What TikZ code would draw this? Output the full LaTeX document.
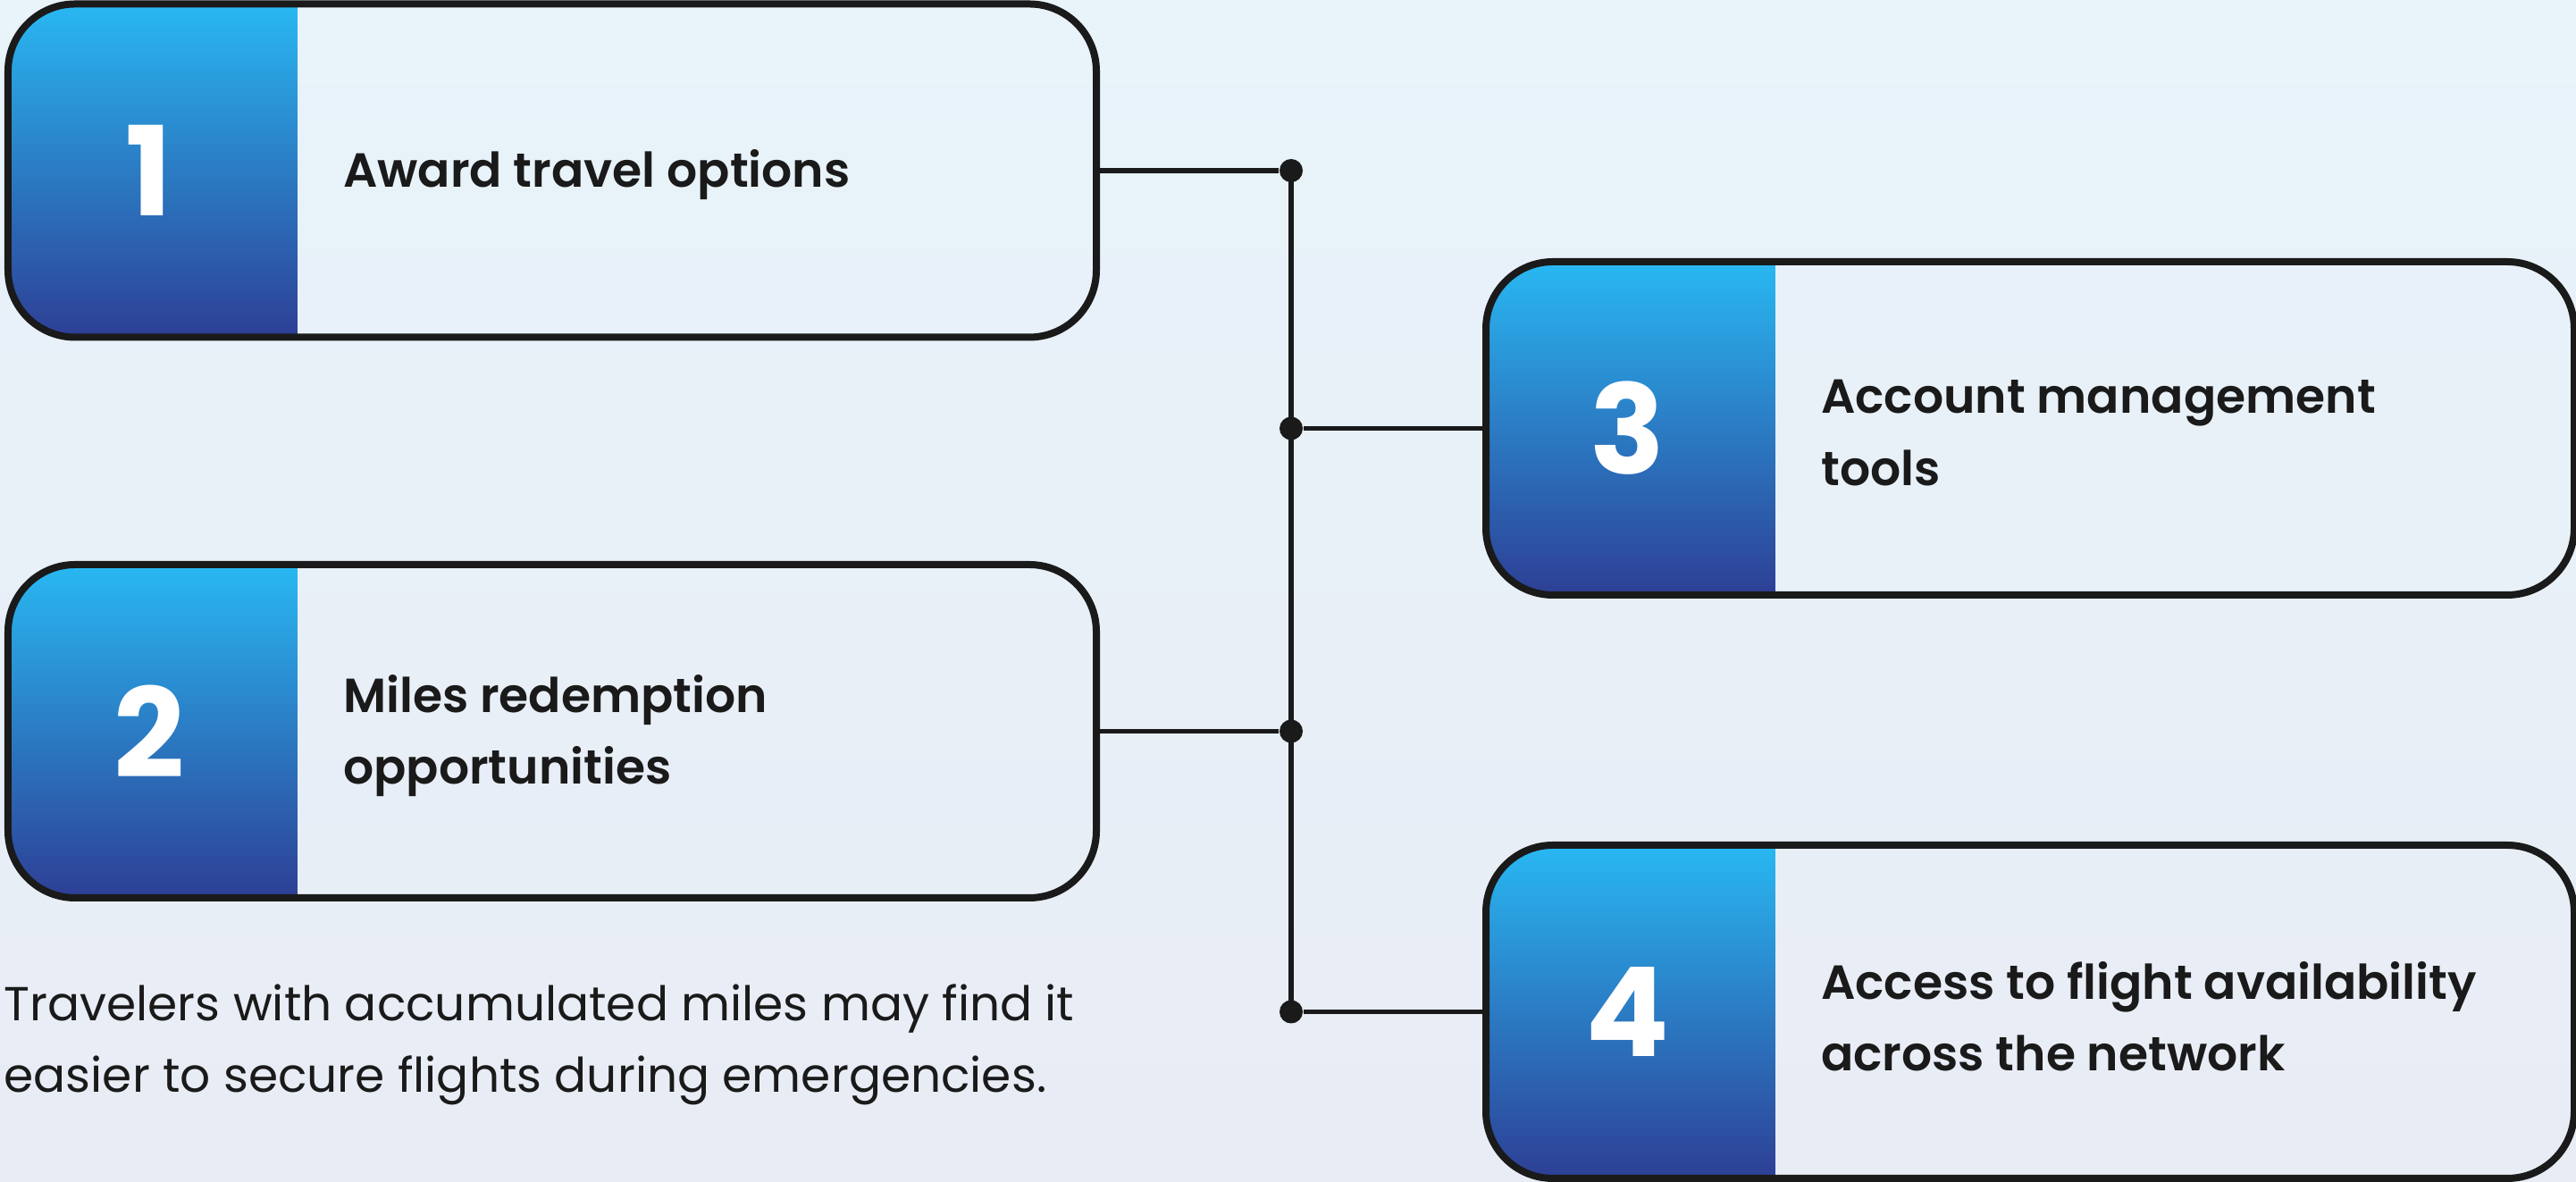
\documentclass[tikz,border=0pt]{standalone}
\usepackage{fontspec}
\setmainfont{Poppins}
\newfontfamily\semibold{Poppins SemiBold}
\usepackage{tikz}
\usetikzlibrary{calc}
\usetikzlibrary{positioning}

\definecolor{ink}{HTML}{1A1A1A}
\definecolor{bgtop}{HTML}{E8F3FA}
\definecolor{bgbot}{HTML}{E8ECF5}
\definecolor{bandtop}{HTML}{29B8F2}
\definecolor{bandbot}{HTML}{2D3F95}

\begin{document}
\begin{tikzpicture}[
  card/.style={draw=ink, line width=0.08cm, rounded corners=0.75cm,
    minimum width=12.18cm, minimum height=3.73cm, inner sep=0pt,
    path picture={\shade[sharp corners, top color=bandtop, bottom color=bandbot]
      (path picture bounding box.south west) rectangle
      ([xshift=3.235cm]path picture bounding box.north west);}},
  num/.style={text=white, font=\bfseries\fontsize{39.5}{40}\selectfont, inner sep=0pt},
  lbl/.style={text=ink, font=\semibold\fontsize{15.25}{22.8}\selectfont,
    align=left, anchor=west, inner sep=0pt},
  note/.style={text=ink, font=\fontsize{15.2}{22.8}\selectfont,
    align=left, inner sep=0pt},
  joint/.style={circle, fill=ink, minimum size=0.26cm, inner sep=0pt},
  wire/.style={draw=ink, line width=0.055cm}
]
\shade[top color=bgtop, bottom color=bgbot] (0,0) rectangle (28.83,13.23);
\useasboundingbox (0,0) rectangle (28.83,13.23);

% cards
\node[card] (b1) at (6.18,11.32) {};
\node[card] (b2) at (6.18,5.045) {};
\node[card] (b3) at (22.72,8.435) {};
\node[card] (b4) at (22.72,1.905) {};

\node[num] (n1) at ([xshift=1.62cm]b1.west) {1};
\node[num] (n2) at ([xshift=1.62cm]b2.west) {2};
\node[num] (n3) at ([xshift=1.62cm]b3.west) {3};
\node[num] (n4) at ([xshift=1.62cm]b4.west) {4};

\node[lbl] (t1) at ([xshift=3.785cm,yshift=-0.05cm]b1.west) {Award travel options};
\node[lbl] (t2) at ([xshift=3.785cm,yshift=-0.05cm]b2.west) {Miles redemption\\opportunities};
\node[lbl] (t3) at ([xshift=3.785cm,yshift=-0.05cm]b3.west) {Account management\\tools};
\node[lbl] (t4) at ([xshift=3.785cm,yshift=-0.05cm]b4.west) {Access to flight availability\\across the network};

% joints on the spine
\coordinate (jx) at (14.45,0);
\node[joint] (d1) at (b1 -| jx) {};
\node[joint] (d2) at (b3 -| jx) {};
\node[joint] (d3) at (b2 -| jx) {};
\node[joint] (d4) at (b4 -| jx) {};

\draw[wire] (d1.center) -- (d4.center);
\draw[wire] (b1.east) -- (d1);
\draw[wire] (b3.west) -- (d2);
\draw[wire] (b2.east) -- (d3);
\draw[wire] (b4.west) -- (d4);

\node[note, anchor=base west] (txt) at (0.04,1.00)
  {Travelers with accumulated miles may find it\\easier to secure flights during emergencies.};
\end{tikzpicture}
\end{document}
